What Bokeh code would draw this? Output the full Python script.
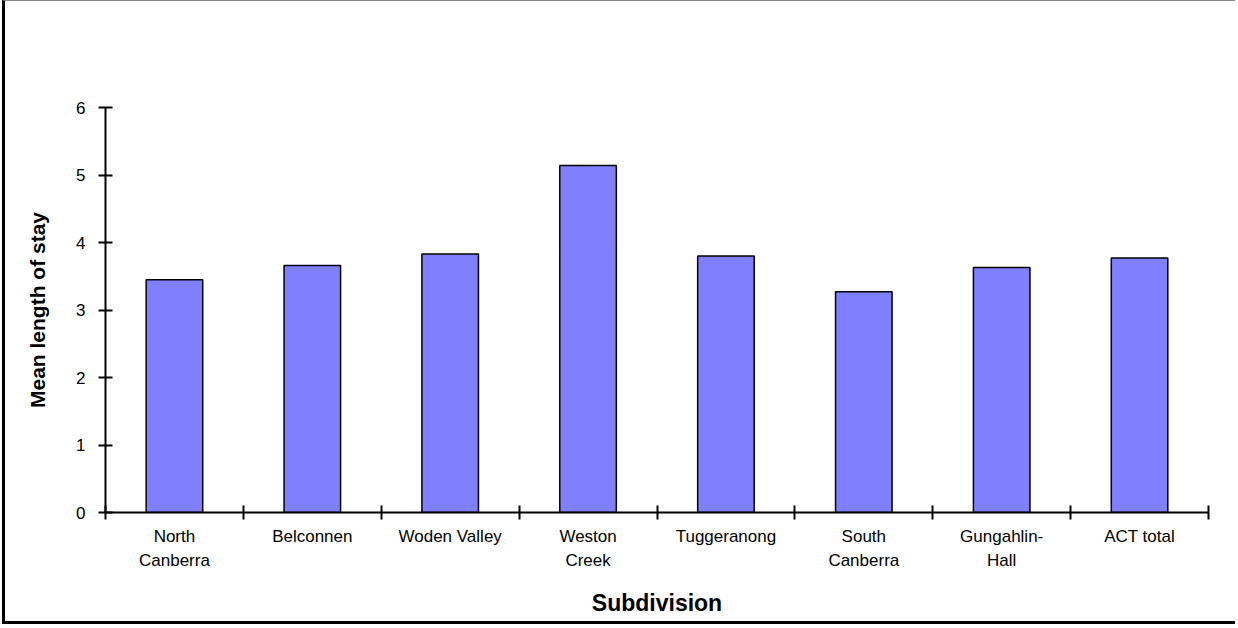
from bokeh.plotting import figure
from bokeh.models import ColumnDataSource, LinearAxis, CategoricalAxis, FixedTicker
from bokeh.embed import file_html
from bokeh.resources import INLINE

# Mean length of stay by subdivision (names wrapped as they appear under the bars)
subdivisions = ["North\nCanberra", "Belconnen", "Woden Valley", "Weston\nCreek",
                "Tuggeranong", "South\nCanberra", "Gungahlin-\nHall", "ACT total"]
mean_stay = [3.45, 3.66, 3.83, 5.14, 3.80, 3.27, 3.63, 3.77]
y_ticks = [0, 1, 2, 3, 4, 5, 6]

FONT = "Liberation Sans"

source = ColumnDataSource(data=dict(sub=subdivisions, stay=mean_stay))

p = figure(width=1233, height=624, x_range=subdivisions, y_range=(0, 6),
           x_axis_location=None, y_axis_location="left",
           output_backend="svg", toolbar_location=None,
           min_border_left=100, min_border_right=30,
           min_border_top=106, min_border_bottom=113)
p.styles = {"margin-left": "2px", "border-left": "3px solid black",
            "border-top": "1px solid #888888", "border-bottom": "3px solid black"}
p.outline_line_color = None
p.xgrid.grid_line_color = None
p.ygrid.grid_line_color = None
p.background_fill_color = "white"
p.border_fill_color = "white"

p.vbar(x="sub", top="stay", width=0.41, source=source,
       fill_color="#8080FF", line_color="black", line_width=1.5)

# y axis with ticks crossing the axis line
ya = p.yaxis[0]
ya.ticker = FixedTicker(ticks=y_ticks)
ya.minor_tick_line_color = None
ya.major_tick_in = 7
ya.major_tick_out = 7
ya.axis_line_width = 2
ya.major_tick_line_width = 2
ya.major_label_standoff = 13
ya.major_label_text_font = FONT
ya.major_label_text_font_size = "17px"
ya.major_label_text_color = "black"
ya.axis_label = "Mean length of stay"
ya.axis_label_text_font = FONT
ya.axis_label_text_font_size = "21px"
ya.axis_label_text_font_style = "bold"
ya.axis_label_text_color = "black"
ya.axis_label_standoff = 24

# tick marks on the category boundaries (synthetic factor coordinates 0..n)
edge_axis = LinearAxis(ticker=FixedTicker(ticks=list(range(len(subdivisions) + 1))),
                       major_label_text_font_size="0px", major_label_text_color=None,
                       major_label_standoff=0,
                       major_tick_in=7, major_tick_out=7,
                       axis_line_width=2, major_tick_line_width=2,
                       minor_tick_line_color=None)
p.add_layout(edge_axis, "below")

# category names centred under each bar
cat_axis = CategoricalAxis(axis_line_color=None, major_tick_line_color=None,
                           major_tick_in=0, major_tick_out=0,
                           major_label_standoff=7,
                           major_label_text_font=FONT,
                           major_label_text_font_size="17px",
                           major_label_text_line_height=1.3,
                           major_label_text_color="black",
                           axis_label="Subdivision",
                           axis_label_text_font=FONT,
                           axis_label_text_font_size="23px",
                           axis_label_text_font_style="bold",
                           axis_label_text_color="black",
                           axis_label_standoff=17)
p.add_layout(cat_axis, "below")

open("out.html", "w").write(file_html(p, INLINE))
